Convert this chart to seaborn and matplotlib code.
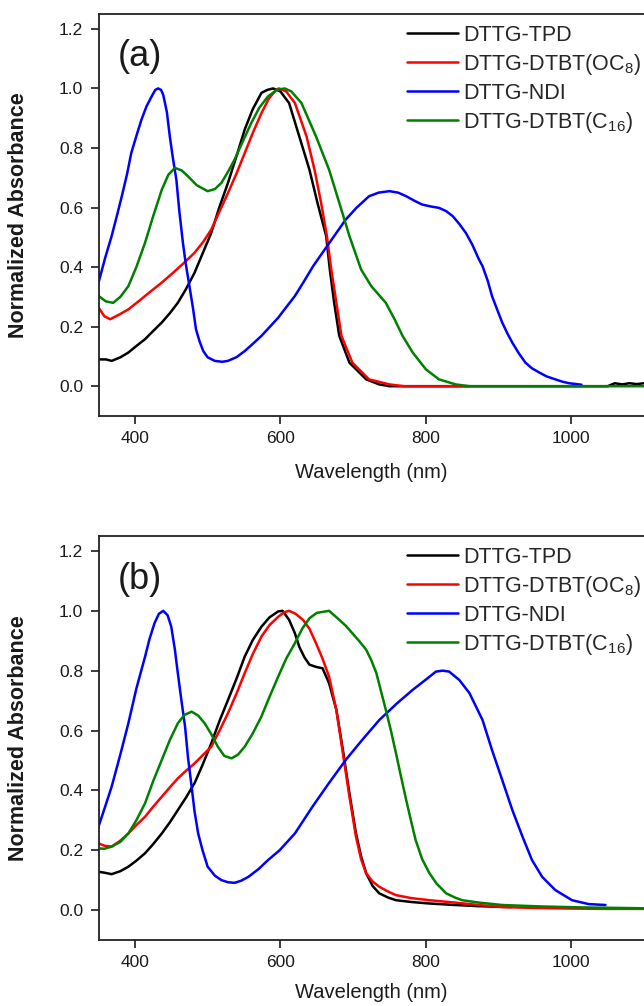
import numpy as np
import pandas as pd
import matplotlib
matplotlib.use("Agg")
import matplotlib.pyplot as plt
import seaborn as sns

# series names (legend order = drawing order)
polymers = ["DTTG-TPD", "DTTG-DTBT(OC8)", "DTTG-NDI", "DTTG-DTBT(C16)"]
legend_labels = ["DTTG-TPD", "DTTG-DTBT(OC$_8$)", "DTTG-NDI", "DTTG-DTBT(C$_{16}$)"]
colors = ["#000000", "#ff0000", "#0000ff", "#008000"]

# ---- panel (a) ----
tpd_a_wl = [350, 360, 368, 380, 391, 402, 414, 425, 437, 448, 459, 470, 482, 493, 505, 516,
            528, 540, 551, 562, 574, 582, 590, 600, 612, 626, 640, 651, 663, 668, 674, 681,
            695, 718, 736, 750, 1050, 1060, 1070, 1080, 1090, 1100]
tpd_a_abs = [0.09, 0.09, 0.085, 0.097, 0.113, 0.135, 0.158, 0.185, 0.214, 0.245, 0.28, 0.325,
             0.381, 0.445, 0.515, 0.6, 0.683, 0.775, 0.862, 0.93, 0.985, 0.995, 1.0, 0.99,
             0.951, 0.839, 0.727, 0.616, 0.504, 0.392, 0.28, 0.169, 0.079, 0.023, 0.006, 0.0,
             0.0, 0.01, 0.006, 0.01, 0.007, 0.01]

oc8_a_wl = [350, 358, 366, 378, 391, 405, 420, 437, 452, 467, 482, 494, 505, 516, 528, 540,
            551, 562, 574, 584, 594, 598, 608, 620, 636, 647, 656, 664, 670, 677, 684, 699,
            722, 750, 770, 860]
oc8_a_abs = [0.264, 0.235, 0.225, 0.24, 0.258, 0.285, 0.315, 0.348, 0.38, 0.413, 0.448, 0.485,
             0.526, 0.585, 0.649, 0.716, 0.783, 0.85, 0.917, 0.965, 0.995, 1.0, 0.99, 0.951,
             0.839, 0.727, 0.616, 0.504, 0.392, 0.28, 0.169, 0.079, 0.023, 0.006, 0.0, 0.0]

ndi_a_wl = [350, 359, 368, 375, 382, 389, 395, 402, 409, 416, 423, 428, 432, 436, 439, 444,
            448, 452, 457, 461, 466, 470, 475, 480, 484, 489, 494, 500, 510, 520, 528, 540,
            551, 562, 574, 585, 597, 608, 620, 632, 645, 667, 690, 705, 722, 735, 750, 762,
            773, 785, 795, 808, 818, 828, 837, 846, 855, 864, 873, 878, 885, 891, 898, 905,
            912, 919, 928, 937, 946, 956, 966, 978, 988, 997, 1014]
ndi_a_abs = [0.348, 0.43, 0.504, 0.57, 0.638, 0.71, 0.783, 0.84, 0.895, 0.94, 0.973, 0.995,
             1.0, 0.995, 0.978, 0.92, 0.839, 0.77, 0.694, 0.59, 0.482, 0.41, 0.336, 0.26,
             0.191, 0.15, 0.118, 0.097, 0.085, 0.082, 0.085, 0.098, 0.118, 0.142, 0.169,
             0.198, 0.23, 0.265, 0.303, 0.35, 0.403, 0.48, 0.56, 0.6, 0.638, 0.65, 0.655, 0.65,
             0.638, 0.622, 0.61, 0.603, 0.599, 0.588, 0.571, 0.545, 0.515, 0.475, 0.426, 0.403,
             0.355, 0.303, 0.258, 0.214, 0.178, 0.146, 0.11, 0.079, 0.06, 0.046, 0.033, 0.023,
             0.015, 0.01, 0.005]

c16_a_wl = [350, 360, 370, 380, 391, 402, 414, 425, 437, 446, 455, 464, 473, 485, 500, 510,
            519, 528, 537, 548, 560, 571, 583, 595, 606, 615, 629, 649, 667, 681, 695, 711,
            725, 745, 757, 768, 782, 800, 818, 841, 860, 1100]
c16_a_abs = [0.303, 0.285, 0.28, 0.3, 0.336, 0.4, 0.482, 0.57, 0.66, 0.71, 0.733, 0.725, 0.705,
             0.675, 0.655, 0.662, 0.683, 0.72, 0.761, 0.82, 0.884, 0.935, 0.973, 0.995, 1.0,
             0.99, 0.951, 0.839, 0.727, 0.616, 0.504, 0.392, 0.336, 0.28, 0.225, 0.169, 0.113,
             0.057, 0.023, 0.006, 0.0, 0.0]

# ---- panel (b) ----
tpd_b_wl = [350, 358, 368, 380, 391, 402, 414, 425, 437, 448, 459, 470, 482, 493, 505, 516,
            528, 540, 551, 562, 574, 585, 597, 603, 612, 620, 626, 633, 640, 650, 658, 667,
            677, 686, 695, 704, 711, 718, 727, 736, 748, 759, 780, 805, 840, 873, 900, 918]
tpd_b_abs = [0.128, 0.125, 0.12, 0.13, 0.145, 0.165, 0.19, 0.22, 0.256, 0.293, 0.334, 0.375,
             0.424, 0.485, 0.557, 0.63, 0.702, 0.775, 0.847, 0.902, 0.947, 0.978, 0.998, 1.0,
             0.97, 0.925, 0.88, 0.845, 0.82, 0.812, 0.808, 0.758, 0.669, 0.535, 0.39, 0.256,
             0.18, 0.123, 0.08, 0.056, 0.042, 0.033, 0.027, 0.022, 0.017, 0.013, 0.011, 0.01]

oc8_b_wl = [350, 358, 368, 380, 391, 402, 414, 425, 437, 448, 459, 470, 482, 493, 505, 516,
            528, 540, 551, 562, 574, 585, 597, 605, 612, 621, 631, 640, 649, 658, 667, 677,
            686, 695, 704, 711, 718, 727, 736, 748, 759, 780, 805, 840, 873, 905, 950, 1000,
            1050, 1100]
oc8_b_abs = [0.223, 0.215, 0.212, 0.232, 0.256, 0.284, 0.312, 0.345, 0.379, 0.41, 0.44, 0.465,
             0.49, 0.517, 0.546, 0.598, 0.658, 0.725, 0.792, 0.855, 0.914, 0.952, 0.98, 0.995,
             1.0, 0.99, 0.97, 0.94, 0.892, 0.84, 0.78, 0.669, 0.524, 0.379, 0.245, 0.17, 0.123,
             0.095, 0.078, 0.062, 0.05, 0.04, 0.033, 0.025, 0.017, 0.01, 0.007, 0.005, 0.004,
             0.004]

ndi_b_wl = [350, 359, 368, 380, 391, 402, 414, 420, 427, 433, 439, 445, 450, 455, 459, 464,
            469, 473, 478, 482, 487, 493, 500, 510, 519, 528, 537, 546, 556, 570, 583, 599,
            620, 644, 667, 690, 713, 736, 760, 782, 800, 814, 823, 832, 846, 860, 878, 891,
            905, 919, 933, 946, 960, 978, 1001, 1024, 1047]
ndi_b_abs = [0.279, 0.345, 0.412, 0.52, 0.624, 0.74, 0.847, 0.905, 0.959, 0.99, 1.0, 0.985,
             0.947, 0.87, 0.792, 0.7, 0.613, 0.51, 0.412, 0.33, 0.256, 0.2, 0.145, 0.115, 0.1,
             0.093, 0.091, 0.098, 0.111, 0.137, 0.167, 0.2, 0.256, 0.345, 0.425, 0.502, 0.57,
             0.635, 0.69, 0.736, 0.77, 0.797, 0.8, 0.797, 0.769, 0.725, 0.635, 0.535, 0.435,
             0.334, 0.245, 0.167, 0.111, 0.067, 0.033, 0.02, 0.017]

c16_b_wl = [350, 358, 368, 380, 391, 402, 414, 425, 437, 448, 459, 468, 478, 487, 496, 505,
            514, 523, 533, 542, 551, 562, 574, 585, 597, 608, 620, 630, 640, 650, 667, 681,
            690, 699, 708, 718, 725, 732, 738, 745, 752, 759, 766, 773, 780, 786, 795, 805,
            815, 828, 840, 850, 873, 905, 960, 1014, 1100]
c16_b_abs = [0.206, 0.205, 0.212, 0.228, 0.256, 0.3, 0.357, 0.43, 0.502, 0.568, 0.624, 0.652,
             0.663, 0.65, 0.624, 0.588, 0.546, 0.515, 0.507, 0.52, 0.546, 0.59, 0.647, 0.712,
             0.78, 0.84, 0.892, 0.94, 0.975, 0.993, 1.0, 0.97, 0.95, 0.925, 0.9, 0.87, 0.835,
             0.792, 0.735, 0.669, 0.6, 0.524, 0.445, 0.368, 0.295, 0.234, 0.17, 0.123, 0.088,
             0.056, 0.042, 0.033, 0.025, 0.017, 0.012, 0.009, 0.006]

panel_a = [(tpd_a_wl, tpd_a_abs), (oc8_a_wl, oc8_a_abs), (ndi_a_wl, ndi_a_abs), (c16_a_wl, c16_a_abs)]
panel_b = [(tpd_b_wl, tpd_b_abs), (oc8_b_wl, oc8_b_abs), (ndi_b_wl, ndi_b_abs), (c16_b_wl, c16_b_abs)]


def to_frame(series):
    parts = []
    for name, (wl, ab) in zip(polymers, series):
        parts.append(pd.DataFrame({"wavelength": wl, "absorbance": ab, "polymer": name}))
    return pd.concat(parts, ignore_index=True)


sns.set_style("ticks")
plt.rcParams["font.family"] = ["Liberation Sans", "DejaVu Sans"]
plt.rcParams["mathtext.default"] = "regular"

fig = plt.figure(figsize=(6.44, 10.06), dpi=100)
ax_a = fig.add_axes([0.153, 0.5865, 0.847, 0.3996])
ax_b = fig.add_axes([0.153, 0.0656, 0.847, 0.4016])

text_col = "#1a1a1a"
for ax, series, tag, xlab_y in [(ax_a, panel_a, "(a)", -0.118), (ax_b, panel_b, "(b)", -0.106)]:
    df = to_frame(series)
    sns.lineplot(data=df, x="wavelength", y="absorbance", hue="polymer",
                 hue_order=polymers, palette=colors, estimator=None, sort=False,
                 linewidth=1.8, legend=False, ax=ax)

    ax.set_xlim(350, 1100)
    ax.set_ylim(-0.1, 1.25)
    ax.set_xticks([400, 600, 800, 1000])
    ax.set_yticks(np.arange(0, 1.21, 0.2))
    ax.yaxis.set_major_formatter(matplotlib.ticker.FormatStrFormatter("%.1f"))
    ax.tick_params(direction="out", length=6, width=1.2, labelsize=12.5,
                   colors=text_col, pad=5)
    for side in ["left", "top", "bottom"]:
        ax.spines[side].set_linewidth(1.3)
        ax.spines[side].set_color("#222222")
    ax.spines["right"].set_visible(False)

    ax.set_xlabel("Wavelength (nm)", fontsize=14.5, color=text_col)
    ax.set_ylabel("Normalized Absorbance", fontsize=15.5, fontweight="bold", color=text_col)
    ax.xaxis.set_label_coords(0.5, xlab_y)
    ax.yaxis.set_label_coords(-0.128, 0.5)

    ax.text(0.076, 0.893, tag, transform=ax.transAxes, fontsize=26,
            ha="center", va="center", color=text_col)

    handles = ax.get_lines()[:4]
    ax.legend(handles, legend_labels, loc="upper right", bbox_to_anchor=(1.018, 1.005),
              frameon=False, fontsize=15.5, handlelength=2.4, handletextpad=0.2,
              labelspacing=0.28, borderaxespad=0.2)

fig.savefig("out.png", dpi=100)
